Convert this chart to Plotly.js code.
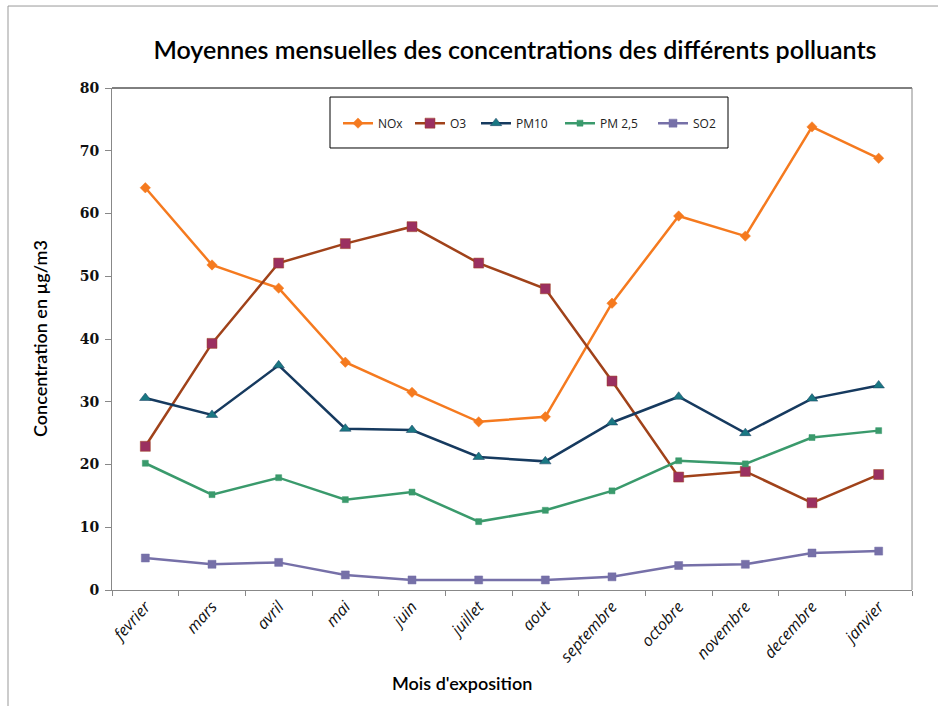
<!DOCTYPE html>
<html>
<head>
<meta charset="utf-8">
<script src="https://cdn.plot.ly/plotly-3.0.1.min.js"></script>
<style>html,body{margin:0;padding:0;background:#fff;}#chart{width:938px;height:706px;}</style>
</head>
<body>
<div id="chart"></div>
<script>
const months = ["fevrier","mars","avril","mai","juin","juillet","aout","septembre","octobre","novembre","decembre","janvier"];
const nox  = [64.1, 51.8, 48.1, 36.3, 31.5, 26.8, 27.6, 45.7, 59.6, 56.4, 73.8, 68.8];
const o3   = [22.9, 39.3, 52.1, 55.2, 57.9, 52.1, 48.0, 33.3, 18.0, 18.9, 13.9, 18.4];
const pm10 = [30.6, 27.9, 35.8, 25.7, 25.5, 21.2, 20.5, 26.7, 30.8, 25.0, 30.5, 32.6];
const pm25 = [20.2, 15.2, 17.9, 14.4, 15.6, 10.9, 12.7, 15.8, 20.6, 20.1, 24.3, 25.4];
const so2  = [5.1, 4.1, 4.4, 2.4, 1.6, 1.6, 1.6, 2.1, 3.9, 4.1, 5.9, 6.2];
const yTicks = [0,10,20,30,40,50,60,70,80];

function tr(name, y, lineColor, markerColor, symbol, size, legendId) {
  return {
    type: 'scatter', mode: 'lines+markers', name: name, x: months, y: y, legend: legendId,
    line: {color: lineColor, width: 2.5},
    marker: {symbol: symbol, size: size, color: markerColor, line: {width: 0.5, color: lineColor}}
  };
}
const data = [
  tr('NOx', nox, '#F57A1F', '#F57A1F', 'diamond', 8, 'legend'),
  tr('O3', o3, '#A0421A', '#9B3060', 'square', 10, 'legend2'),
  tr('PM10', pm10, '#163A5F', '#1A7883', 'triangle-up', 10, 'legend3'),
  tr('PM 2,5', pm25, '#3A9A6C', '#3A9A6C', 'square', 6, 'legend4'),
  tr('SO2', so2, '#7670A8', '#7670A8', 'square', 8, 'legend5')
];

function leg(x) {
  return {orientation: 'h', x: x, y: 0.930, xanchor: 'left', yanchor: 'middle',
          borderwidth: 0, bgcolor: 'rgba(0,0,0,0)',
          font: {size: 12, family: '"Open Sans", sans-serif', color: '#222'}};
}

const layout = {
  width: 938, height: 706,
  margin: {l: 112, r: 26, t: 88, b: 116},
  paper_bgcolor: '#fff', plot_bgcolor: '#fff',
  font: {family: 'Lato, "Open Sans", sans-serif', color: '#000'},
  title: {text: 'Moyennes mensuelles des concentrations des différents polluants',
          font: {size: 25, family: 'Lato, "Open Sans", sans-serif', color: '#000', weight: 600},
          x: 0.549, xanchor: 'center', y: 0.929, yanchor: 'middle'},
  showlegend: true,
  legend: leg(0.2825), legend2: leg(0.3725), legend3: leg(0.455), legend4: leg(0.56), legend5: leg(0.67625),
  xaxis: {
    type: 'category', range: [-0.5, 11.5], tickson: 'boundaries',
    ticks: 'outside', ticklen: 5, tickcolor: '#888', showline: true, linecolor: '#888', linewidth: 1,
    showgrid: false, zeroline: false, tickangle: -48,
    tickfont: {size: 16, family: '"Open Sans", sans-serif', style: 'italic', color: '#111'},
    fixedrange: true
  },
  yaxis: {
    range: [0, 80], tickvals: yTicks, ticktext: yTicks.map(String),
    ticks: 'outside', ticklen: 6, tickcolor: '#888', showline: true, linecolor: '#888', linewidth: 1,
    showgrid: false, zeroline: false, ticklabelstandoff: 3,
    tickfont: {size: 14, family: '"DejaVu Serif", serif', weight: 'bold', color: '#111'},
    fixedrange: true
  },
  annotations: [
    {text: "Mois d'exposition", xref: 'paper', yref: 'paper', x: 0.4375, y: -0.185, xanchor: 'center', yanchor: 'middle',
     showarrow: false, font: {size: 18, family: 'Lato, "Open Sans", sans-serif', weight: 600, color: '#000'}},
    {text: 'Concentration en µg/m3', xref: 'paper', yref: 'paper', x: -0.09, y: 0.5, xanchor: 'center', yanchor: 'middle',
     textangle: -90, showarrow: false, font: {size: 18, family: 'Lato, "Open Sans", sans-serif', weight: 600, color: '#000'}}
  ],
  shapes: [
    {type: 'line', xref: 'x domain', yref: 'y domain', x0: 0, x1: 1, y0: 1, y1: 1, line: {color: '#000', width: 1}},
    {type: 'line', xref: 'x domain', yref: 'y domain', x0: 1, x1: 1, y0: 0, y1: 1, line: {color: '#888', width: 1}},
    {type: 'rect', xref: 'paper', yref: 'paper', x0: 0.2725, x1: 0.77, y0: 0.8805, y1: 0.982, line: {color: '#000', width: 1}, fillcolor: 'rgba(0,0,0,0)'},
    {type: 'line', xref: 'paper', yref: 'paper', x0: -0.13, x1: 1.04, y0: 1.1633, y1: 1.1633, line: {color: '#999', width: 1}},
    {type: 'line', xref: 'paper', yref: 'paper', x0: -0.13, x1: -0.13, y0: 1.1633, y1: -0.24, line: {color: '#999', width: 1}}
  ]
};
Plotly.newPlot('chart', data, layout, {displayModeBar: false, staticPlot: true});
</script>
</body>
</html>
